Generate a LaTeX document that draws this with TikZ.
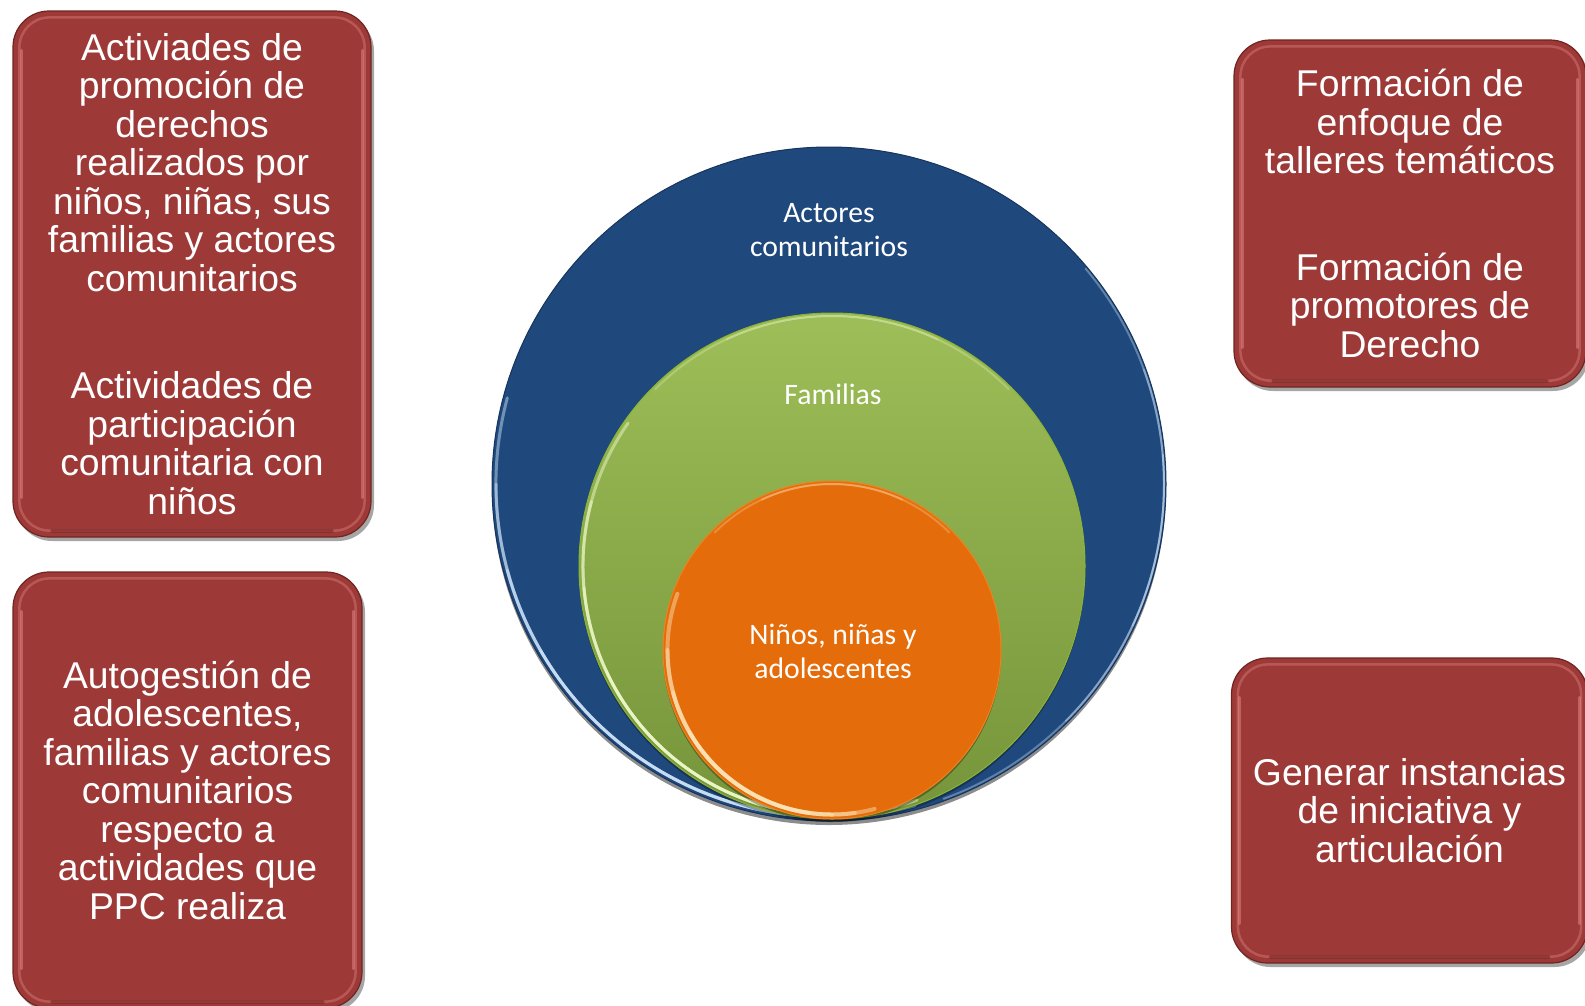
\documentclass[tikz,border=0pt]{standalone}
\usepackage{fontspec}
\setmainfont{Liberation Sans}
\newfontfamily\calfont{Carlito}
\usetikzlibrary{shadows}
\definecolor{boxred}{RGB}{157,58,56}
\definecolor{boxedge}{RGB}{112,36,34}
\definecolor{boxhl}{RGB}{236,146,144}
\definecolor{boxdk}{RGB}{120,40,38}
\definecolor{blueC}{RGB}{31,73,125}
\definecolor{blueEdge}{RGB}{22,52,92}
\definecolor{blueRim}{RGB}{215,235,255}
\definecolor{greenTop}{RGB}{157,190,88}
\definecolor{greenBot}{RGB}{118,148,58}
\definecolor{greenEdge}{RGB}{140,180,50}
\definecolor{greenRim}{RGB}{245,255,210}
\definecolor{orangeC}{RGB}{228,108,10}
\definecolor{orangeEdge}{RGB}{240,130,30}
\definecolor{orangeRim}{RGB}{255,240,200}
\begin{document}
\begin{tikzpicture}[x=1pt,y=-1pt,
  redbox/.style={draw=boxedge, line width=1.2pt, fill=boxred, rounded corners=36pt,
    text=white, align=center, inner sep=0pt, font=\fontsize{37.3}{38.5}\selectfont,
    drop shadow={shadow xshift=3pt, shadow yshift=-4pt, opacity=0.35, fill=black}},
  boxglow/.style={draw=boxhl, line width=2.5pt, opacity=0.35, rounded corners=30pt},
  sideglow/.style={draw=boxhl, line width=3pt, opacity=0.45, line cap=round},
  botdark/.style={draw=boxdk, line width=4pt, opacity=0.6, line cap=round},
  ring/.style={circle, inner sep=0pt},
  rim/.style={line width=3pt, opacity=0.45, line cap=round},
  clabel/.style={text=white, align=center, inner sep=0pt, font=\calfont\fontsize{29.7}{34}\selectfont}
]
\fill[white] (0,0) rectangle (1585,1005);
\useasboundingbox (0,0) rectangle (1585,1005);

% ---------- boxes ----------
\node[redbox, minimum width=358pt, minimum height=526pt] (b1) at (192,274)
  {Activiades de\\promoción de\\derechos\\realizados por\\niños, niñas, sus\\familias y actores\\comunitarios\\[69pt]Actividades de\\participación\\comunitaria con\\niños};
\node[redbox, minimum width=349pt, minimum height=436pt] (b2) at (187.5,790)
  {Autogestión de\\adolescentes,\\familias y actores\\comunitarios\\respecto a\\actividades que\\PPC realiza};
\node[redbox, minimum width=352pt, minimum height=347pt] (b3) at (1410,213.5)
  {Formación de\\enfoque de\\talleres temáticos\\[68pt]Formación de\\promotores de\\Derecho};
\node[redbox, minimum width=356pt, minimum height=305pt] (b4) at (1409.5,810.5)
  {Generar instancias\\de iniciativa y\\articulación};
\foreach \b in {b1,b2,b3,b4}{
  \draw[boxglow] ([shift={(7,7)}]\b.north west) rectangle ([shift={(-7,-7)}]\b.south east);
  \draw[sideglow] ([shift={(9,40)}]\b.north west) -- ([shift={(9,-40)}]\b.south west);
  \draw[sideglow] ([shift={(-9,40)}]\b.north east) -- ([shift={(-9,-40)}]\b.south east);
  \draw[botdark] ([shift={(40,-7)}]\b.south west) -- ([shift={(-40,-7)}]\b.south east);
}

% ---------- circles ----------
\node[ring, minimum size=674pt, fill=blueC, draw=blueEdge, line width=1pt,
  drop shadow={shadow xshift=0pt, shadow yshift=-4pt, opacity=0.45, fill=black}] (outer) at (829,484) {};
\foreach \s/\e in {165/285,180/280,195/275,210/268}{
  \draw[rim, draw=blueRim] ([shift={(\s:333pt)}]outer.center) arc[start angle=\s, end angle=\e, radius=333pt];}
\foreach \s/\e in {-70/40,-45/20,-25/5}{
  \draw[rim, draw=blueRim, line width=2pt, opacity=0.35] ([shift={(\s:335pt)}]outer.center) arc[start angle=\s, end angle=\e, radius=335pt];}

\node[ring, minimum size=506pt, top color=greenTop, bottom color=greenBot, draw=greenEdge, line width=1pt,
  drop shadow={shadow xshift=0pt, shadow yshift=-3pt, opacity=0.3, fill=black}] (middle) at (832,566) {};
\foreach \s/\e in {145/290,165/285,185/280,205/272}{
  \draw[rim, draw=greenRim, opacity=0.45] ([shift={(\s:249pt)}]middle.center) arc[start angle=\s, end angle=\e, radius=249pt];}
\foreach \s/\e in {45/135,65/115}{
  \draw[rim, draw=greenRim, line width=2pt, opacity=0.25] ([shift={(\s:250pt)}]middle.center) arc[start angle=\s, end angle=\e, radius=250pt];}

\node[ring, minimum size=338pt, fill=orangeC, draw=orangeEdge, line width=1pt,
  drop shadow={shadow xshift=0pt, shadow yshift=-3pt, opacity=0.3, fill=black}] (inner) at (832,650) {};
\foreach \s/\e in {160/285,180/278,195/270,210/262}{
  \draw[rim, draw=orangeRim, line width=4pt, opacity=0.42] ([shift={(\s:164.5pt)}]inner.center) arc[start angle=\s, end angle=\e, radius=164.5pt];}
\foreach \s/\e in {45/135,65/115}{
  \draw[rim, draw=orangeRim, line width=2pt, opacity=0.25] ([shift={(\s:166pt)}]inner.center) arc[start angle=\s, end angle=\e, radius=166pt];}

% ---------- circle labels ----------
\node[clabel] (lA) at (829,230) {Actores\\comunitarios};
\node[clabel] (lF) at (833,394) {Familias};
\node[clabel] (lN) at (833,651) {Niños, niñas y\\adolescentes};
\end{tikzpicture}
\end{document}
